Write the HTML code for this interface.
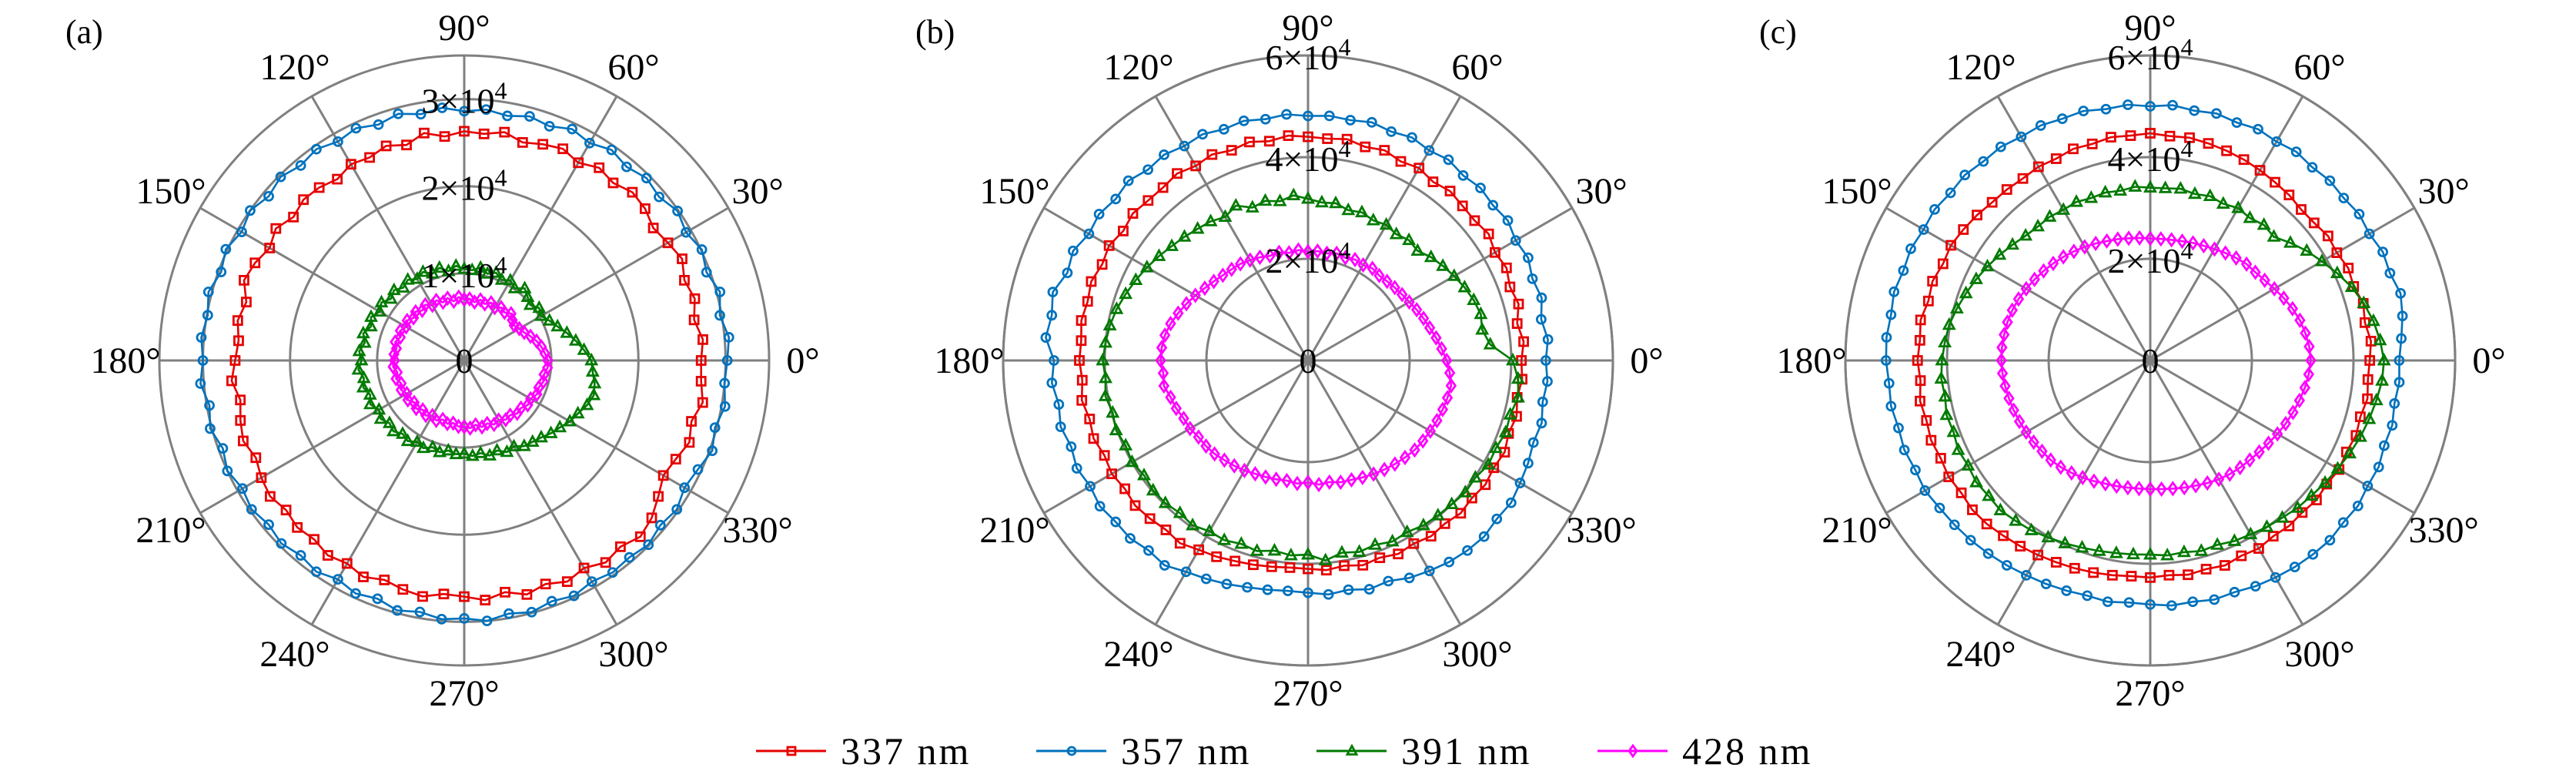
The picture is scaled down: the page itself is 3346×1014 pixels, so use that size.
<!DOCTYPE html>
<html><head><meta charset="utf-8"><style>
html,body{margin:0;padding:0;background:#fff;}
svg{display:block;}
svg text{font-family:"Liberation Serif","DejaVu Serif",serif;}
</style></head><body>
<svg id="fig" width="3346" height="1014" viewBox="0 0 3346 1014" xmlns="http://www.w3.org/2000/svg" font-family="Liberation Serif, DejaVu Serif, serif"></svg>
<script>
const angleTicks=[0,30,60,90,120,150,180,210,240,270,300,330];
const seriesNames=["337 nm","357 nm","391 nm","428 nm"];
const panelLabels=["(a)","(b)","(c)"];
const ringTicksA=[1,2,3];
const ringTicksB=[2,4,6];
const ringTicksC=[2,4,6];
const rMaxList=[35,60,60];
// values in units of 1e3, angles 0..355 step 5
const a337=[27.2,27.5,26.8,27.4,26.9,27.6,27.0,26.5,27.1,27.3,26.6,27.0,26.2,26.8,26.4,25.9,26.6,26.1,26.3,25.8,26.5,25.6,26.2,25.7,26.0,25.4,25.9,26.1,25.6,26.4,25.8,26.5,26.9,25.9,26.4,26.0,26.3,26.8,26.1,26.6,27.0,26.4,26.9,27.2,26.7,27.1,26.8,27.3,26.9,27.4,26.8,27.2,27.5,26.9,27.1,27.6,27.0,27.8,27.3,28.0,27.5,28.3,27.9,28.6,28.1,27.2,26.4,26.8,27.5,27.0,27.8,27.3];
const a357=[30.2,30.5,29.8,30.4,29.6,30.1,29.4,29.9,29.2,29.6,29.0,29.5,28.8,29.3,28.6,29.0,28.5,28.9,28.6,29.1,28.7,29.3,28.8,29.4,29.0,29.6,29.2,29.8,29.3,30.0,29.5,30.2,29.7,30.4,29.9,30.3,30.0,30.4,29.7,30.2,29.5,30.0,29.4,29.8,29.3,29.7,29.2,29.6,29.0,29.5,29.1,29.7,29.3,29.8,29.6,30.0,29.5,29.9,29.4,29.8,29.3,29.7,29.5,29.9,29.4,29.8,29.2,29.6,30.3,29.8,30.4,30.0];
const a391=[14.6,13.8,13.0,12.2,11.4,10.8,10.2,10.5,9.9,10.3,10.8,10.1,10.6,10.2,10.7,10.3,10.8,10.4,10.5,10.9,10.4,11.0,10.6,11.2,10.8,11.3,10.9,11.4,11.0,11.6,11.2,11.8,11.4,12.0,11.6,12.1,11.8,12.2,11.7,12.0,11.5,11.9,11.3,11.7,11.2,11.5,11.0,11.3,10.8,11.1,10.6,10.9,10.5,10.8,10.7,11.0,10.8,11.3,11.0,11.6,11.4,12.0,12.2,12.5,13.0,13.4,14.0,14.4,15.0,15.4,15.2,14.8];
const a428=[9.6,9.3,9.0,8.6,8.1,7.6,7.3,7.0,7.2,7.6,7.2,7.4,7.0,7.3,6.9,7.2,6.8,7.1,7.0,7.3,6.9,7.4,7.1,7.6,7.3,7.8,7.5,7.9,7.6,8.0,7.7,8.1,7.8,8.2,7.9,8.1,8.0,8.2,7.8,8.1,7.7,8.0,7.6,7.9,7.5,7.8,7.4,7.7,7.3,7.6,7.2,7.5,7.3,7.6,7.6,7.8,7.5,7.9,7.7,8.1,7.9,8.3,8.2,8.6,8.5,8.9,8.8,9.2,9.1,9.4,9.3,9.6];
const b337=[42.0,42.6,41.8,42.9,42.3,43.1,42.5,43.4,42.8,43.0,43.5,42.9,43.7,43.2,44.0,43.5,44.2,43.8,44.0,44.4,43.8,44.5,44.0,44.7,44.2,44.9,44.4,44.5,45.0,44.4,45.2,44.7,45.4,44.9,45.3,44.8,45.0,44.6,45.2,44.5,44.9,44.2,44.6,44.0,44.4,44.0,43.5,43.9,43.0,42.6,42.0,41.6,41.2,40.9,41.0,41.4,41.0,41.7,41.3,42.0,41.6,42.2,41.9,42.5,42.1,42.6,42.2,42.7,42.0,42.5,41.8,42.3];
const b357=[46.8,47.4,46.6,47.6,47.0,47.8,47.2,48.0,47.5,48.0,47.5,48.2,47.7,48.4,47.9,48.5,48.0,48.3,48.1,48.6,48.2,48.8,48.4,49.1,48.7,49.4,49.0,50.0,49.4,50.2,49.8,51.0,50.4,52.0,51.2,51.8,50.0,50.6,49.8,50.4,49.6,50.2,49.5,50.0,49.4,49.5,48.8,49.2,48.0,47.4,46.8,46.2,45.8,45.5,45.7,46.2,45.8,46.6,46.2,47.2,47.8,48.4,48.8,49.0,48.5,48.8,48.2,47.8,47.2,47.6,46.9,47.3];
const b391=[40.3,36.0,34.8,35.2,34.7,34.0,33.2,32.4,31.6,30.5,30.9,30.3,30.8,30.4,31.0,30.6,31.4,31.2,31.8,32.6,31.8,32.5,32.0,33.6,32.6,33.4,33.8,34.4,35.0,35.8,36.6,37.4,38.2,39.0,39.6,40.0,40.4,40.0,40.5,39.8,40.2,39.6,40.0,39.4,39.8,39.7,39.2,39.6,38.8,39.0,38.4,38.8,38.0,38.5,38.2,39.5,38.4,39.0,38.6,39.3,39.0,39.6,39.8,40.0,40.4,40.2,41.0,40.8,41.4,41.2,42.0,41.5];
const b428=[27.3,26.4,25.6,24.8,24.2,23.6,23.0,22.6,22.3,22.0,21.8,22.1,21.7,21.9,21.5,21.8,21.4,21.6,21.4,21.8,21.5,22.0,21.9,22.4,22.8,23.2,23.4,23.7,24.2,24.8,25.6,26.4,27.2,28.0,28.6,28.9,29.0,28.6,28.8,28.0,27.6,27.0,26.8,26.3,26.2,26.0,25.6,25.3,25.0,24.6,24.4,24.2,24.0,24.3,24.0,24.5,24.3,24.8,25.0,25.4,25.8,26.2,26.6,27.0,27.4,27.6,27.8,28.0,28.2,28.4,28.6,28.0];
const c337=[43.2,43.6,42.9,43.4,42.6,43.0,42.4,42.7,42.1,42.0,42.5,42.8,43.2,43.6,43.9,44.2,44.5,44.3,44.7,44.4,44.6,44.1,44.3,43.8,44.0,43.7,43.9,44.0,44.5,44.9,45.3,45.0,45.6,45.2,45.9,45.5,45.8,45.4,46.0,45.6,45.9,45.5,45.8,45.4,45.7,45.5,45.0,44.6,44.2,43.8,43.5,43.2,42.9,42.6,42.7,42.4,42.8,42.5,42.9,42.4,42.7,42.2,42.5,42.3,42.7,42.4,42.9,42.6,43.1,42.8,43.4,43.0];
const c357=[49.0,49.6,50.4,51.0,50.2,50.5,49.8,50.2,49.7,50.0,49.6,50.1,49.7,50.2,49.8,50.3,49.9,50.4,50.0,50.5,50.2,50.8,50.6,51.0,50.8,51.3,51.1,51.6,51.3,51.8,51.5,52.0,51.7,52.2,51.8,52.1,52.0,51.6,51.8,51.3,51.5,51.0,51.2,50.6,50.3,50.0,49.6,49.2,48.8,48.5,48.2,47.9,48.2,47.8,48.0,48.4,48.2,48.7,48.5,49.0,49.3,49.6,49.8,50.0,49.6,49.9,49.4,49.6,49.0,49.3,48.8,49.2];
const c391=[46.0,45.4,44.6,43.5,42.2,40.6,39.0,37.6,36.0,34.4,34.8,34.2,34.6,34.0,34.4,33.9,34.3,34.0,34.0,34.3,33.9,34.2,34.0,34.4,34.2,34.5,34.4,34.7,35.4,36.2,37.0,37.8,38.6,39.4,40.2,40.6,41.0,41.3,41.0,41.5,41.2,41.7,41.4,41.8,41.5,41.7,41.2,40.8,40.2,39.7,39.2,38.8,38.5,38.3,38.2,38.5,38.3,38.8,38.6,39.2,39.5,40.0,40.4,41.0,41.4,42.0,42.6,43.3,44.0,44.6,45.2,45.8];
const c428=[31.6,31.4,31.0,30.5,29.8,29.0,28.2,27.5,27.0,26.8,26.3,25.8,25.3,24.9,24.6,24.3,24.1,24.0,24.0,24.2,24.4,24.7,25.0,25.4,25.8,26.2,26.6,27.0,27.4,27.8,28.2,28.6,28.9,29.1,29.2,29.3,29.3,29.2,29.0,28.8,28.6,28.4,28.2,28.0,27.8,27.7,27.4,27.0,26.6,26.2,25.8,25.6,25.4,25.3,25.3,25.4,25.6,25.9,26.2,26.6,27.0,27.3,27.5,27.7,28.0,28.4,28.9,29.4,29.9,30.4,30.9,31.3];

const NS="http://www.w3.org/2000/svg";
const svg=document.getElementById('fig');
const FONT='"Liberation Serif", "DejaVu Serif", serif';
const colors=["#e60000","#0072bd","#007a00","#ff00ff"];
const markers=["square","circle","triangle","diamond"];
const panels=[
 {cx:603,cy:468,ticks:ringTicksA,series:[a337,a357,a391,a428],lx:85,key:"a"},
 {cx:1699,cy:468,ticks:ringTicksB,series:[b337,b357,b391,b428],lx:1189,key:"b"},
 {cx:2793,cy:468,ticks:ringTicksC,series:[c337,c357,c391,c428],lx:2285,key:"c"}
];
const R=396;
function mk(tag,attrs,parent){const e=document.createElementNS(NS,tag);for(const k in attrs)e.setAttribute(k,attrs[k]);(parent||svg).appendChild(e);if(tag==='text'){e.style.fontFamily=FONT;}return e;}
function marker(type,x,y,col,parent,s){
  let e;
  if(type==="square") e=mk('rect',{x:x-s,y:y-s,width:2*s,height:2*s},parent);
  else if(type==="circle") e=mk('circle',{cx:x,cy:y,r:s},parent);
  else if(type==="triangle") e=mk('polygon',{points:`${x},${y-s*1.3} ${x-s*1.2},${y+s*0.9} ${x+s*1.2},${y+s*0.9}`},parent);
  else e=mk('polygon',{points:`${x},${y-s*1.4} ${x+s},${y} ${x},${y+s*1.4} ${x-s},${y}`},parent);
  e.setAttribute('fill','none');e.setAttribute('stroke',col);e.setAttribute('stroke-width','2.8');
  return e;
}
panels.forEach((p,pi)=>{
  const g=mk('g',{});
  
  
  const rmax=rMaxList[pi];
  const rs=v=>v/rmax*R;
  const grid=mk('g',{stroke:'#808080','stroke-width':3,fill:'none'},g);
  
  
  angleTicks.forEach(a=>{const t=a*Math.PI/180;mk('line',{x1:p.cx,y1:p.cy,x2:p.cx+R*Math.cos(t),y2:p.cy-R*Math.sin(t)},grid);});
  p.ticks.forEach(t=>{mk('circle',{cx:p.cx,cy:p.cy,r:rs(t*10)},grid);});
  mk('circle',{cx:p.cx,cy:p.cy,r:R},grid);
  p.series.forEach((vals,si)=>{
    const sg=mk('g',{},g);
    
    
    const pts=vals.map((v,i)=>{const t=i*5*Math.PI/180;return [p.cx+rs(v)*Math.cos(t),p.cy-rs(v)*Math.sin(t)];});
    mk('polygon',{points:pts.map(q=>q[0].toFixed(1)+','+q[1].toFixed(1)).join(' '),fill:'none',stroke:colors[si],'stroke-width':2.6},sg);
    pts.forEach(q=>marker(markers[si],q[0],q[1],colors[si],sg,5.5));
  });
  angleTicks.forEach(a=>{
    const t=a*Math.PI/180; const rr=(a===90||a===270)?432:440;
    const tx=mk('text',{x:p.cx+rr*Math.cos(t),y:p.cy-rr*Math.sin(t)+16,'text-anchor':'middle','font-size':48,fill:'#000'},g);
    
    
    tx.textContent=a+'°';
  });
  const z=mk('text',{x:p.cx,y:p.cy+16,'text-anchor':'middle','font-size':46},g);
  
  
  z.textContent='0';
  p.ticks.forEach(t=>{
    const tx=mk('text',{x:p.cx,y:p.cy-rs(t*10)+18,'text-anchor':'middle','font-size':46},g);
    
    
    tx.appendChild(document.createTextNode(t+'×10'));
    const sup=mk('tspan',{dy:-18,'font-size':32},tx);sup.textContent='4';
  });
  const pl=mk('text',{x:p.lx,y:56,'font-size':44},g);
  
  
  pl.textContent=panelLabels[pi];
});
const lg=mk('g',{});


const legX=[982,1346,1710,2075];
seriesNames.forEach((n,i)=>{
  const eg=mk('g',{},lg);
  
  
  const x=legX[i],y=975;
  mk('line',{x1:x,y1:y,x2:x+91,y2:y,stroke:colors[i],'stroke-width':3},eg);
  marker(markers[i],x+46,y,colors[i],eg,5);
  const t=mk('text',{x:x+110,y:y+17,'font-size':50,'letter-spacing':3},eg);
  t.textContent=n;
});
</script>
</body></html>
